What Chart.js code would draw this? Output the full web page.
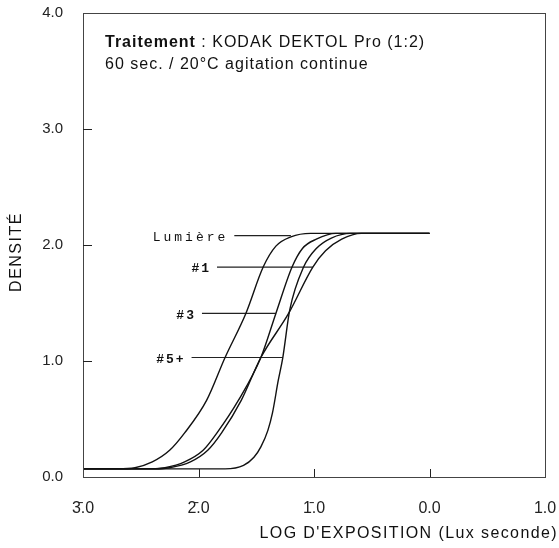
<!DOCTYPE html>
<html>
<head>
<meta charset="utf-8">
<script src="https://cdn.jsdelivr.net/npm/chart.js@4"></script>
<style>
html,body{margin:0;padding:0;background:#fff;}
#wrap{width:559px;height:548px;}
</style>
</head>
<body>
<div id="wrap"><canvas id="c" width="559" height="548"></canvas></div>
<script>
// ---- data ----
const seriesNames = ["Lumière", "#1", "#3", "#5+"];

const xLumiere = [-3.0, -2.7, -2.55, -2.4, -2.25, -2.12, -1.93, -1.77, -1.59, -1.44, -1.33, -1.20, -1.03, -0.8, 0.0];
const yLumiere = [0.07, 0.07, 0.08, 0.13, 0.23, 0.38, 0.66, 1.03, 1.41, 1.81, 1.99, 2.07, 2.10, 2.10, 2.10];

const x1 = [-3.0, -2.4, -2.25, -2.07, -1.92, -1.80, -1.63, -1.46, -1.22, -1.01, -0.90, -0.76, -0.59, 0.0];
const y1 = [0.07, 0.07, 0.08, 0.13, 0.23, 0.38, 0.66, 1.03, 1.41, 1.81, 1.95, 2.05, 2.10, 2.10];

const x3 = [-3.0, -2.4, -2.29, -2.12, -1.96, -1.84, -1.655, -1.46, -1.33, -1.19, -1.10, -0.98, -0.81, 0.0];
const y3 = [0.07, 0.07, 0.08, 0.13, 0.23, 0.38, 0.66, 1.03, 1.41, 1.81, 1.97, 2.05, 2.10, 2.10];

const x5 = [-3.0, -1.9, -1.77, -1.61, -1.52, -1.46, -1.40, -1.36, -1.31, -1.27, -1.21, -1.09, -0.98, -0.85, -0.68, 0.0];
const y5 = [0.07, 0.07, 0.07, 0.10, 0.17, 0.26, 0.40, 0.55, 0.83, 1.03, 1.44, 1.81, 1.97, 2.06, 2.10, 2.10];

// leader lines for the curve labels (density level, start and end log exposure)
const leaderDensity = [2.08, 1.81, 1.41, 1.03];
const leaderStart   = [-1.69, -1.84, -1.97, -2.06];
const leaderEnd     = [-1.20, -1.01, -1.33, -1.27];

// tick values / labels
const xTickValues = [-3, -2, -1, 0, 1];
const xTickLabels = ["3\u0304.0", "2\u0304.0", "1\u0304.0", "0.0", "1.0"];
const yTickValues = [0, 1, 2, 3, 4];
const yTickLabels = ["0.0", "1.0", "2.0", "3.0", "4.0"];

const titleBold = "Traitement";
const titleRest = " : KODAK DEKTOL Pro (1:2)";
const subtitle = "60 sec. / 20°C agitation continue";
const xTitle = "LOG D'EXPOSITION (Lux seconde)";
const yTitle = "DENSITÉ";

// ---- build datasets ----
function pts(xs, ys){ return xs.map((x,i)=>({x:x, y:ys[i]})); }
const curveSets = [[xLumiere,yLumiere],[x1,y1],[x3,y3],[x5,y5]];
const datasets = curveSets.map((s,i)=>({
  label: seriesNames[i],
  data: pts(s[0], s[1]),
  borderColor: '#111',
  borderWidth: 1.4,
  pointRadius: 0,
  cubicInterpolationMode: 'monotone',
  fill: false
}));
leaderDensity.forEach((d,i)=>{
  datasets.push({
    label: 'leader ' + seriesNames[i],
    data: [{x: leaderStart[i], y: d}, {x: leaderEnd[i], y: d}],
    borderColor: '#222',
    borderWidth: 1.2,
    pointRadius: 0,
    fill: false
  });
});

const FONT = "'Liberation Sans', Arial, sans-serif";
const MONO = "'Liberation Mono', 'DejaVu Sans Mono', monospace";

function noPad(scale){
  scale.paddingTop = 0; scale.paddingBottom = 0;
  scale.paddingLeft = 0; scale.paddingRight = 0;
}

const decor = {
  id: 'decor',
  afterDraw(chart){
    const ctx = chart.ctx;
    const a = chart.chartArea;
    const xs = chart.scales.x, ys = chart.scales.y;
    ctx.save();
    // frame
    ctx.strokeStyle = '#444';
    ctx.lineWidth = 1;
    ctx.strokeRect(a.left + 0.5, a.top + 0.5, a.right - a.left, a.bottom - a.top);
    // inner tick marks
    ctx.strokeStyle = '#222';
    ctx.beginPath();
    [1,2,3].forEach(v=>{
      const y = Math.round(ys.getPixelForValue(v)) + 0.5;
      ctx.moveTo(a.left, y); ctx.lineTo(a.left + 9, y);
    });
    [-2,-1,0].forEach(v=>{
      const x = Math.round(xs.getPixelForValue(v)) + 0.5;
      ctx.moveTo(x, a.bottom); ctx.lineTo(x, a.bottom - 8);
    });
    ctx.stroke();
    // annotation text
    ctx.fillStyle = '#111';
    ctx.textBaseline = 'middle';
    ctx.textAlign = 'left';
    ctx.letterSpacing = '1px';
    const tx = a.left + 22, ty = a.top + 30;
    ctx.font = "bold 16px " + FONT;
    ctx.fillText(titleBold, tx, ty);
    const w = ctx.measureText(titleBold).width;
    ctx.font = "16px " + FONT;
    ctx.fillText(titleRest, tx + w, ty);
    ctx.fillText(subtitle, tx, ty + 22);
    // curve labels
    ctx.textAlign = 'right';
    seriesNames.forEach((n,i)=>{
      if (i === 0) { ctx.letterSpacing = '3px'; ctx.font = "13px " + MONO; }
      else { ctx.letterSpacing = '2px'; ctx.font = "bold 13px " + MONO; }
      const px = xs.getPixelForValue(leaderStart[i]) - 6;
      const py = ys.getPixelForValue(leaderDensity[i]) + 2;
      ctx.fillText(n, px, py);
    });
    // axis titles
    ctx.letterSpacing = '1.4px';
    ctx.font = "16px " + FONT;
    ctx.textAlign = 'right';
    ctx.fillText(xTitle, 558, 534);
    ctx.translate(17, 252);
    ctx.rotate(-Math.PI / 2);
    ctx.textAlign = 'center';
    ctx.letterSpacing = '1.5px';
    ctx.font = "16px " + FONT;
    ctx.fillText(yTitle, 0, 0);
    ctx.restore();
  }
};

new Chart(document.getElementById('c'), {
  type: 'line',
  data: { datasets: datasets },
  plugins: [decor],
  options: {
    responsive: false,
    animation: false,
    layout: { padding: { left: 0, right: 14, top: 13, bottom: 0 } },
    plugins: { legend: { display: false }, tooltip: { enabled: false } },
    scales: {
      x: {
        type: 'linear',
        min: -3, max: 1,
        afterBuildTicks(scale){ scale.ticks = xTickValues.map(v=>({value:v})); },
        afterFit(scale){ scale.height = 71; noPad(scale); },
        grid: { display: false, drawTicks: false },
        border: { display: false },
        ticks: {
          padding: 22,
          color: '#222',
          font: { family: FONT, size: 16 },
          maxRotation: 0,
          callback: (v)=> xTickLabels[xTickValues.indexOf(v)]
        }
      },
      y: {
        type: 'linear',
        min: 0, max: 4,
        afterBuildTicks(scale){ scale.ticks = yTickValues.map(v=>({value:v})); },
        afterFit(scale){ scale.width = 83; noPad(scale); },
        grid: { display: false, drawTicks: false },
        border: { display: false },
        ticks: {
          padding: 20,
          color: '#222',
          font: { family: FONT, size: 15 },
          callback: (v)=> yTickLabels[yTickValues.indexOf(v)]
        }
      }
    }
  }
});
</script>
</body>
</html>
